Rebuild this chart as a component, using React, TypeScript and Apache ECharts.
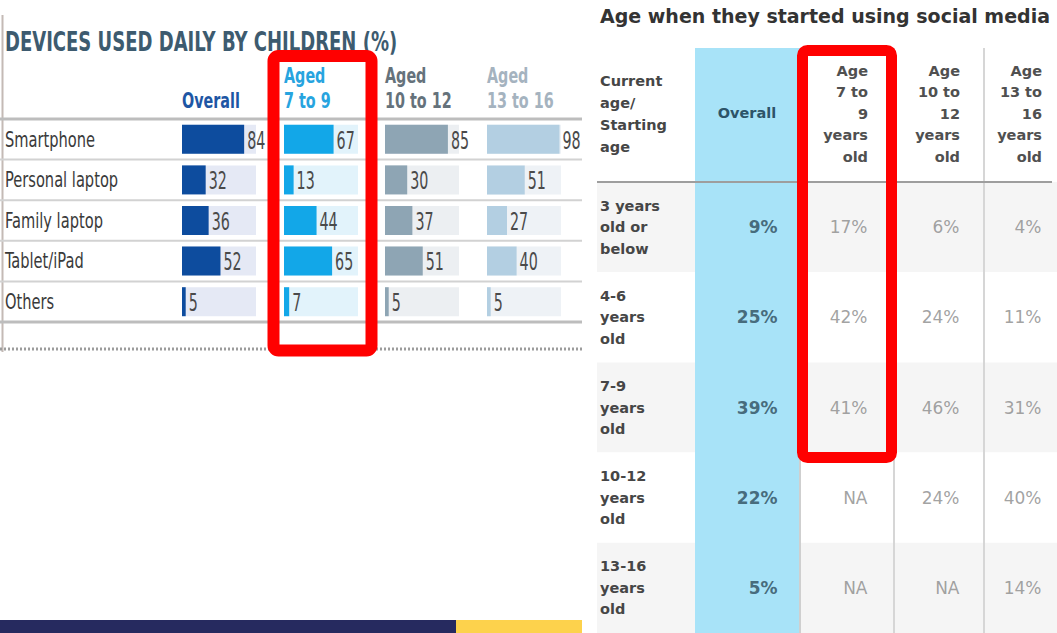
import React, { useEffect, useRef } from "react";
import * as echarts from "echarts";

// ---------- Left panel data: devices used daily by children (%) ----------
const devices = ["Smartphone", "Personal laptop", "Family laptop", "Tablet/iPad", "Others"];
const deviceGroups = ["Overall", "Aged\n7 to 9", "Aged\n10 to 12", "Aged\n13 to 16"];
const overallDaily = [84, 32, 36, 52, 5];
const aged7to9Daily = [67, 13, 44, 65, 7];
const aged10to12Daily = [85, 30, 37, 51, 5];
const aged13to16Daily = [98, 51, 27, 40, 5];

// ---------- Right panel data: age when they started using social media ----------
const startAges = ["3 years\nold or\nbelow", "4-6\nyears\nold", "7-9\nyears\nold", "10-12\nyears\nold", "13-16\nyears\nold"];
const socialColumns = ["Overall", "Age\n7 to\n9\nyears\nold", "Age\n10 to\n12\nyears\nold", "Age\n13 to\n16\nyears\nold"];
const overallStart: (number | null)[] = [9, 25, 39, 22, 5];
const age7to9Start: (number | null)[] = [17, 42, 41, null, null];
const age10to12Start: (number | null)[] = [6, 24, 46, 24, null];
const age13to16Start: (number | null)[] = [4, 11, 31, 40, 14];

const NARROW = "'Liberation Sans Narrow', 'DejaVu Sans Condensed', sans-serif";
const WIDE = "'DejaVu Sans', sans-serif";

export default function App() {
  const ref = useRef<HTMLDivElement>(null);

  useEffect(() => {
    if (!ref.current) return;
    const chart = echarts.init(ref.current, undefined, { renderer: "svg" });

    // left layout
    const colLefts = [182, 284, 385, 487];
    const barAreaW = 74;
    const tblTop = 119;
    const rowH = 40.6;
    const tblH = rowH * devices.length;
    const barColors = ["#0d4c9e", "#12a7e8", "#8ea5b4", "#b3cfe2"];
    const bgColors = ["#e5e9f5", "#e2f3fb", "#eceff2", "#eef2f6"];
    const headColors = ["#1e56a4", "#27a4df", "#65727b", "#a5b3bf"];
    const dailySets = [overallDaily, aged7to9Daily, aged10to12Daily, aged13to16Daily];

    // right layout
    const rTop = 182;
    const rRowH = 91;
    const rH = rRowH * startAges.length;
    const startSets = [overallStart, age7to9Start, age10to12Start, age13to16Start];
    const headRight = [0, 868, 960, 1042];

    const grids: any[] = [];
    const xAxes: any[] = [];
    const yAxes: any[] = [];
    const series: any[] = [];

    dailySets.forEach((vals, i) => {
      grids.push({ left: colLefts[i], top: tblTop, width: barAreaW, height: tblH });
      xAxes.push({ type: "value", gridIndex: i, min: 0, max: 100, show: false });
      yAxes.push({
        type: "category",
        gridIndex: i,
        inverse: true,
        data: devices,
        show: false,
      });
      series.push({
        type: "bar",
        xAxisIndex: i,
        yAxisIndex: i,
        data: vals,
        barWidth: 29,
        showBackground: true,
        backgroundStyle: { color: bgColors[i] },
        itemStyle: { color: barColors[i] },
      });
      // condensed value labels placed through the axes
      series.push({
        type: "custom",
        xAxisIndex: i,
        yAxisIndex: i,
        z: 4,
        data: vals.map((v, r) => [v, r]),
        renderItem: (_p: any, api: any) => {
          const v = api.value(0);
          const pt = api.coord([v, api.value(1)]);
          return {
            type: "text",
            x: pt[0] + 3,
            y: pt[1] + 1,
            scaleX: 0.66,
            style: {
              text: String(v),
              fontFamily: NARROW,
              fontSize: 24,
              fill: "#4a4a4a",
              align: "left",
              verticalAlign: "middle",
            },
          };
        },
      });
    });

    // right: stripe grid with row labels
    grids.push({ left: 597, top: rTop, width: 460, height: rH });
    xAxes.push({ type: "category", gridIndex: 4, data: [""], show: false });
    yAxes.push({
      type: "category",
      gridIndex: 4,
      inverse: true,
      data: startAges,
      z: 0,
      axisLine: { show: false },
      axisTick: { show: false },
      splitLine: { show: false },
      splitArea: { show: true, areaStyle: { color: ["#f5f5f5", "#ffffff"] } },
      axisLabel: {
        inside: true,
        margin: 3,
        fontFamily: WIDE,
        fontWeight: "bold",
        fontSize: 14.5,
        lineHeight: 21.5,
        color: "#464646",
      },
    });

    // right: values grid (category points at 778, 866, 954, 1042)
    grids.push({ left: 778, top: rTop, width: 264, height: rH });
    xAxes.push({ type: "category", gridIndex: 5, data: socialColumns, boundaryGap: false, show: false });
    yAxes.push({ type: "category", gridIndex: 5, inverse: true, data: startAges, show: false });
    const colOffsets = [0, 2, 6, 0];
    startSets.forEach((vals, c) => {
      series.push({
        type: "scatter",
        xAxisIndex: 5,
        yAxisIndex: 5,
        symbolSize: 1,
        z: 5,
        itemStyle: { color: "transparent" },
        data: vals.map((_, r) => [c, r]),
        label: {
          show: true,
          position: "left",
          distance: 0,
          offset: [colOffsets[c], 0],
          fontFamily: WIDE,
          fontSize: 17,
          fontWeight: c === 0 ? "bold" : "normal",
          color: c === 0 ? "#2d4b5b" : "#8a8a8a",
          formatter: (p: any) => {
            const v = vals[p.dataIndex];
            return v == null ? "NA" : v + "%";
          },
        },
      });
    });

    const graphic: any[] = [];
    // left title, headers, row labels and decorations
    graphic.push({
      type: "text",
      x: 5,
      y: 41,
      z: 10,
      scaleX: 0.77,
      style: {
        text: "DEVICES USED DAILY BY CHILDREN (%)",
        fontFamily: NARROW,
        fontWeight: "bold",
        fontSize: 26,
        fill: "#3d5b6f",
        verticalAlign: "middle",
      },
    });
    deviceGroups.forEach((g, i) => {
      graphic.push({
        type: "text",
        x: colLefts[i],
        y: 113,
        z: 10,
        scaleX: 0.76,
        style: {
          text: g,
          fontFamily: NARROW,
          fontWeight: "bold",
          fontSize: 21,
          lineHeight: 25,
          fill: headColors[i],
          verticalAlign: "bottom",
        },
      });
    });
    devices.forEach((d, r) => {
      graphic.push({
        type: "text",
        x: 5,
        y: tblTop + (r + 0.5) * rowH,
        z: 10,
        scaleX: 0.74,
        style: {
          text: d,
          fontFamily: NARROW,
          fontSize: 22,
          fill: "#3a3a3a",
          verticalAlign: "middle",
        },
      });
    });
    graphic.push({ type: "line", z: 1, shape: { x1: 2.5, y1: 15, x2: 2.5, y2: 352 }, style: { stroke: "#c4bab5", lineWidth: 2 } });
    graphic.push({ type: "line", z: 1, shape: { x1: 0, y1: tblTop, x2: 582, y2: tblTop }, style: { stroke: "#bdbdbd", lineWidth: 3 } });
    for (let r = 1; r < devices.length; r++) {
      const y = tblTop + r * rowH;
      graphic.push({ type: "line", z: 1, shape: { x1: 0, y1: y, x2: 582, y2: y }, style: { stroke: "#d2d2d2", lineWidth: 2 } });
    }
    graphic.push({ type: "line", z: 1, shape: { x1: 0, y1: tblTop + tblH, x2: 582, y2: tblTop + tblH }, style: { stroke: "#bdbdbd", lineWidth: 3 } });
    graphic.push({ type: "line", z: 1, shape: { x1: 0, y1: 349, x2: 582, y2: 349 }, style: { stroke: "#9c9c9c", lineWidth: 3, lineDash: [2, 2] } });
    graphic.push({ type: "rect", z: 1, shape: { x: 0, y: 620, width: 456, height: 13 }, style: { fill: "#262a5f" } });
    graphic.push({ type: "rect", z: 1, shape: { x: 456, y: 620, width: 126, height: 13 }, style: { fill: "#fdd24c" } });
    graphic.push({ type: "rect", z: 20, shape: { x: 273.5, y: 56, width: 98, height: 294.5, r: 5 }, style: { fill: "none", stroke: "#ff0000", lineWidth: 12 } });

    // right title and decorations
    graphic.push({
      type: "text",
      x: 600,
      y: 16,
      z: 10,
      style: { text: "Age when they started using social media", fontFamily: WIDE, fontWeight: "bold", fontSize: 19, fill: "#333333", verticalAlign: "middle" },
    });
    graphic.push({ type: "rect", z: 1, shape: { x: 695, y: 48, width: 105, height: 585 }, style: { fill: "#a8e3f8" } });
    graphic.push({ type: "line", z: 1, shape: { x1: 800, y1: 182, x2: 800, y2: 633 }, style: { stroke: "#cfcfcf", lineWidth: 2 } });
    graphic.push({ type: "line", z: 1, shape: { x1: 894, y1: 48, x2: 894, y2: 633 }, style: { stroke: "#d6d6d6", lineWidth: 2 } });
    graphic.push({ type: "line", z: 1, shape: { x1: 984, y1: 48, x2: 984, y2: 633 }, style: { stroke: "#d6d6d6", lineWidth: 2 } });
    graphic.push({ type: "line", z: 3, shape: { x1: 597, y1: rTop, x2: 1052, y2: rTop }, style: { stroke: "#9e9e9e", lineWidth: 2 } });
    graphic.push({
      type: "text",
      x: 600,
      y: 70,
      z: 10,
      style: { text: "Current\nage/\nStarting\nage", fontFamily: WIDE, fontWeight: "bold", fontSize: 14.5, lineHeight: 22, fill: "#464646", verticalAlign: "top" },
    });
    graphic.push({
      type: "text",
      x: 747,
      y: 113,
      z: 10,
      style: { text: socialColumns[0], fontFamily: WIDE, fontWeight: "bold", fontSize: 14.5, fill: "#2d5468", align: "center", verticalAlign: "middle" },
    });
    for (let c = 1; c < socialColumns.length; c++) {
      graphic.push({
        type: "text",
        x: headRight[c],
        y: 60,
        z: 10,
        style: { text: socialColumns[c], fontFamily: WIDE, fontWeight: "bold", fontSize: 14.5, lineHeight: 21.5, fill: "#505050", align: "right", verticalAlign: "top" },
      });
    }
    graphic.push({ type: "rect", z: 20, shape: { x: 802.5, y: 50.5, width: 89, height: 407, r: 5 }, style: { fill: "none", stroke: "#ff0000", lineWidth: 11 } });

    chart.setOption({
      animation: false,
      backgroundColor: "#ffffff",
      grid: grids,
      xAxis: xAxes,
      yAxis: yAxes,
      series,
      graphic,
    });

    return () => chart.dispose();
  }, []);

  return (
    <div
      ref={ref}
      style={{ position: "absolute", left: 0, top: 0, width: 1057, height: 633 }}
    />
  );
}
